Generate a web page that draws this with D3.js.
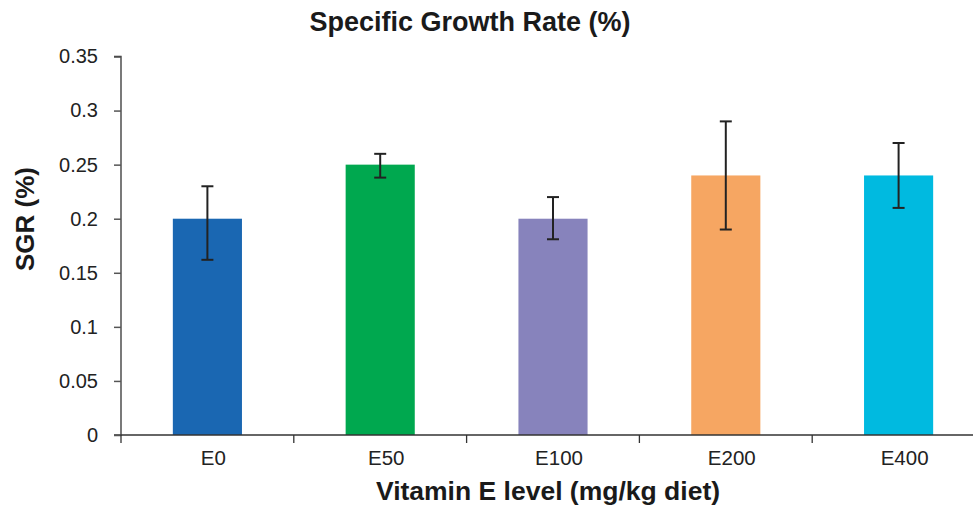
<!DOCTYPE html>
<html><head><meta charset="utf-8">
<script src="https://cdn.jsdelivr.net/npm/d3@7"></script>
<style>body{margin:0;background:#fff}svg{display:block}text{font-family:"Liberation Sans",Arial,Helvetica,sans-serif}</style>
</head><body>
<svg id="c" width="973" height="508"></svg>
<script>
const categories = ["E0", "E50", "E100", "E200", "E400"];
const values = [0.20, 0.25, 0.20, 0.24, 0.24];
const errLow = [0.162, 0.238, 0.181, 0.19, 0.21];
const errHigh = [0.23, 0.26, 0.22, 0.29, 0.27];
const colors = ["#1a67b2", "#00a84f", "#8783bc", "#f6a662", "#00bae0"];
const yTicks = [0, 0.05, 0.1, 0.15, 0.2, 0.25, 0.3, 0.35];
const yTickLabels = ["0", "0.05", "0.1", "0.15", "0.2", "0.25", "0.3", "0.35"];

const svg = d3.select("#c");
const x0 = 121, x1 = 985, yTop = 56.5, yBot = 435;
const x = d3.scaleBand().domain(categories).range([x0, x1]).paddingInner(0.6).paddingOuter(0.3);
const y = d3.scaleLinear().domain([0, 0.35]).range([yBot, yTop]);

// bars
svg.append("g").selectAll("rect").data(categories).join("rect")
  .attr("x", d => x(d)).attr("width", x.bandwidth())
  .attr("y", (d, i) => y(values[i])).attr("height", (d, i) => y(0) - y(values[i]))
  .attr("fill", (d, i) => colors[i]);

// error bars
const eg = svg.append("g").attr("stroke", "#222").attr("stroke-width", 2);
categories.forEach((c, i) => {
  const cx = x(c) + x.bandwidth() / 2;
  eg.append("line").attr("x1", cx).attr("x2", cx).attr("y1", y(errLow[i])).attr("y2", y(errHigh[i]));
  eg.append("line").attr("x1", cx - 6).attr("x2", cx + 6).attr("y1", y(errLow[i])).attr("y2", y(errLow[i]));
  eg.append("line").attr("x1", cx - 6).attr("x2", cx + 6).attr("y1", y(errHigh[i])).attr("y2", y(errHigh[i]));
});

// y axis
const ya = svg.append("g").attr("transform", `translate(${x0},0)`)
  .call(d3.axisLeft(y).tickValues(yTicks).tickFormat((d, i) => yTickLabels[i]).tickSize(7).tickPadding(16));
ya.select(".domain").attr("stroke", "#333").attr("stroke-width", 1.3).attr("d", `M-7,${yTop}H0V${yBot}H-7`);
ya.selectAll(".tick line").attr("stroke", "#555").attr("stroke-width", 1.5);
ya.selectAll(".tick text").attr("font-size", 20).attr("fill", "#222").attr("font-family", "Liberation Sans, Arial, sans-serif");

// x axis
const xa = svg.append("g").attr("transform", `translate(0,${yBot})`)
  .call(d3.axisBottom(x).tickSize(0).tickPadding(15));
xa.select(".domain").attr("stroke", "#333").attr("stroke-width", 1.3).attr("d", `M${x0},0H${x1}`);
xa.selectAll(".tick text").attr("font-size", 20.5).attr("fill", "#222").attr("font-family", "Liberation Sans, Arial, sans-serif").attr("dx", 6);
const bounds = d3.range(categories.length + 1).map(i => x0 + i * (x1 - x0) / categories.length);
xa.selectAll("line.sep").data(bounds).join("line").attr("class", "sep")
  .attr("x1", d => d).attr("x2", d => d).attr("y1", 0).attr("y2", 8)
  .attr("stroke", "#333").attr("stroke-width", 1.3);

// titles
svg.append("text").attr("x", 470).attr("y", 31).attr("text-anchor", "middle")
  .attr("font-size", 27).attr("font-weight", "bold").attr("fill", "#1a1a1a").text("Specific Growth Rate (%)");
svg.append("text").attr("x", 548).attr("y", 500).attr("text-anchor", "middle")
  .attr("font-size", 26.5).attr("font-weight", "bold").attr("fill", "#1a1a1a").text("Vitamin E level (mg/kg diet)");
svg.append("text").attr("transform", "translate(34,219) rotate(-90)").attr("text-anchor", "middle")
  .attr("font-size", 26).attr("font-weight", "bold").attr("fill", "#1a1a1a").text("SGR (%)");
</script>
</body></html>
